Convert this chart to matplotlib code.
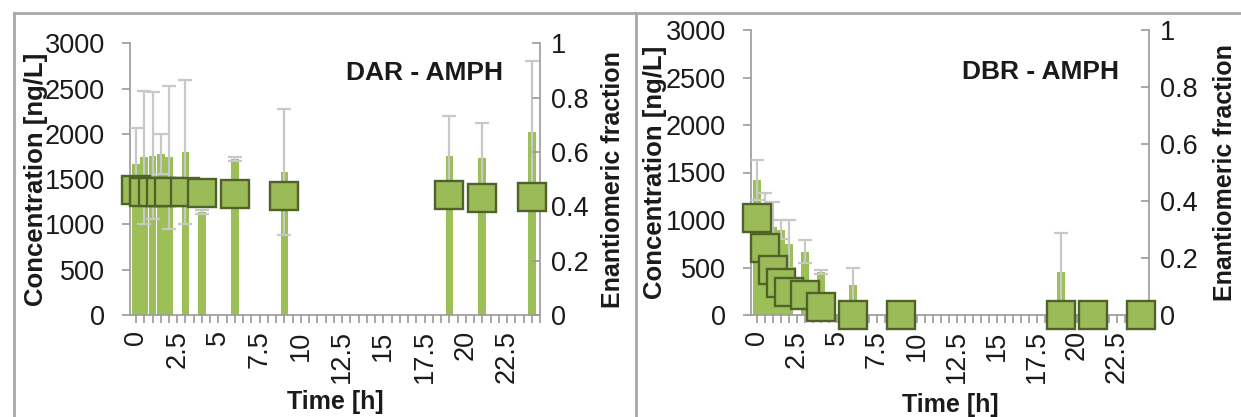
import matplotlib
matplotlib.use("Agg")
import matplotlib.pyplot as plt
from matplotlib.ticker import MultipleLocator, FuncFormatter
from matplotlib.lines import Line2D

plt.rcParams['font.family'] = ['Liberation Sans', 'DejaVu Sans']

# Sampling times [h]
tempos = [0, 0.5, 1, 1.5, 2, 3, 4, 6, 9, 19, 21, 24]

# DAR - AMPH
dar_conc = [1670, 1740, 1760, 1780, 1740, 1800, 1140, 1720, 1580, 1760, 1730, 2020]
dar_desvio = [400, 735, 700, 220, 790, 790, 20, 20, 700, 440, 385, 790]
dar_ef = [0.46, 0.453, 0.453, 0.453, 0.453, 0.454, 0.448, 0.445, 0.439, 0.442, 0.432, 0.435]

# DBR - AMPH
dbr_conc = [1420, 1050, 930, 900, 750, 666, 456, 316, 0, 456, 0, 0]
dbr_desvio = [210, 230, 260, 100, 250, 123, 20, 175, 0, 404, 0, 0]
dbr_ef = [0.339, 0.235, 0.158, 0.111, 0.082, 0.07, 0.029, 0, 0, 0, 0, 0]

y_ticks = [0, 500, 1000, 1500, 2000, 2500, 3000]
ef_ticks = [0, 0.2, 0.4, 0.6, 0.8, 1]
ef_labels = ["0", "0.2", "0.4", "0.6", "0.8", "1"]

W, H = 1241, 417
COR_EIXO = "#9a9a9a"
COR_BARRA = "#9cbf58"
COR_QUAD = "#9bbb59"
COR_BORDA = "#4f6228"
COR_ERRO = "#c8c8c8"
COR_TEXTO = "#1a1a1a"
FS = 19.5


def painel(fig, rect, conc, desvio, ef, titulo, titulo_xy, ylab_x, eflab_x):
    ax = fig.add_axes(rect)
    ax.bar(tempos, conc, width=0.46, color=COR_BARRA, zorder=2)
    ax.errorbar(tempos, conc, yerr=desvio, fmt='none', ecolor=COR_ERRO,
                elinewidth=1.6, capsize=5, capthick=1.6, zorder=3)
    ax.set_xlim(-0.365, 24.5)
    ax.set_ylim(0, 3000)
    ax.set_yticks(y_ticks)
    ax.xaxis.set_major_locator(MultipleLocator(2.5))
    ax.xaxis.set_minor_locator(MultipleLocator(0.5))
    ax.xaxis.set_major_formatter(FuncFormatter(lambda v, p: f"{v:g}"))
    for s in ["top", "right"]:
        ax.spines[s].set_visible(False)
    for s in ["left", "bottom"]:
        ax.spines[s].set_color(COR_EIXO)
        ax.spines[s].set_linewidth(1.2)
    ax.tick_params(axis='y', length=6, width=1.2, color=COR_EIXO, pad=12,
                   labelsize=FS, labelcolor=COR_TEXTO)
    ax.tick_params(axis='x', which='both', length=6, width=1.2, color=COR_EIXO,
                   pad=5, labelsize=FS, labelcolor=COR_TEXTO, labelrotation=90)
    ax.set_xlabel("Time [h]", fontsize=18, fontweight='bold', color=COR_TEXTO)
    ax.xaxis.set_label_coords(0.5, -0.275)
    ax.xaxis.label.set_va('top')
    ax.set_ylabel("Concentration [ng/L]", fontsize=18.5, fontweight='bold', color=COR_TEXTO)
    ax.yaxis.set_label_coords(ylab_x, 0.5)

    ax2 = ax.twinx()
    ax2.plot(tempos, ef, linestyle='none', marker='s', markersize=19.5,
             markerfacecolor=COR_QUAD, markeredgecolor=COR_BORDA,
             markeredgewidth=1.7, clip_on=False, zorder=5)
    ax2.set_xlim(-0.365, 24.5)
    ax2.set_ylim(0, 1)
    ax2.set_yticks(ef_ticks)
    ax2.set_yticklabels(ef_labels)
    for s in ["top", "left", "bottom"]:
        ax2.spines[s].set_visible(False)
    ax2.spines["right"].set_color(COR_EIXO)
    ax2.spines["right"].set_linewidth(1.2)
    ax2.tick_params(axis='y', direction='in', length=6, width=1.2, color=COR_EIXO,
                    pad=8, labelsize=FS, labelcolor=COR_TEXTO)
    ax2.set_ylabel("Enantiomeric fraction", fontsize=18, fontweight='bold',
                   color=COR_TEXTO)
    ax2.yaxis.set_label_coords(eflab_x, 0.5)

    fig.text(titulo_xy[0] / W, 1 - titulo_xy[1] / H, titulo, fontsize=19,
             fontweight='bold', color=COR_TEXTO, ha='center', va='center')
    return ax


fig = plt.figure(figsize=(W / 100, H / 100), dpi=100)

painel(fig, [130 / W, 1 - 315 / H, 410 / W, (315 - 43.3) / H],
       dar_conc, dar_desvio, dar_ef, "DAR - AMPH", (425, 73), -0.20, 1.15)
painel(fig, [751 / W, 1 - 315 / H, 398 / W, (315 - 30) / H],
       dbr_conc, dbr_desvio, dbr_ef, "DBR - AMPH", (1040, 72), -0.21, 1.16)

# moldura dos paineis
for xs, ys in [([14, W], [13, 13]), ([14, 14], [13, H]), ([636, 636], [13, H])]:
    fig.add_artist(Line2D([x / W for x in xs], [1 - y / H for y in ys],
                          color="#a8a8a8", linewidth=2, transform=fig.transFigure))

fig.savefig("out.png", dpi=100)
